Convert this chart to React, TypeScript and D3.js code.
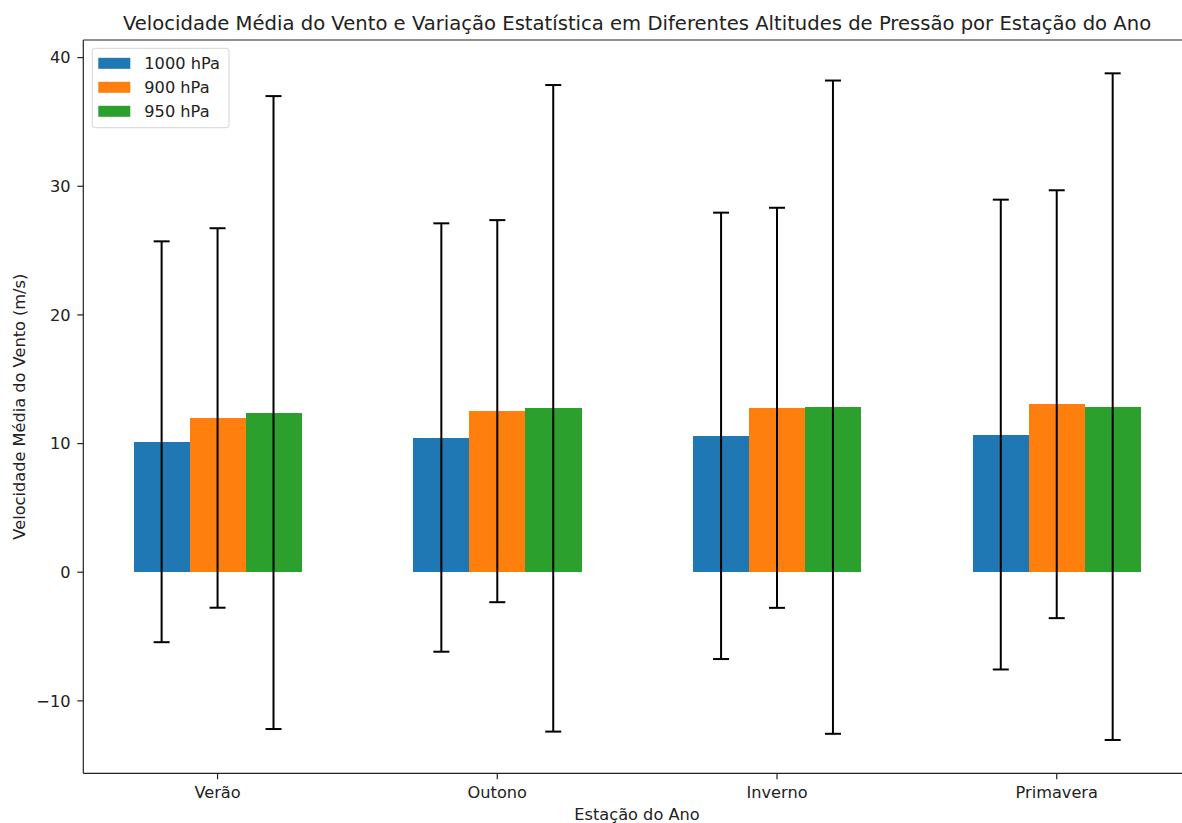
import * as d3 from 'd3'

// Estações e séries (médias e desvios)
const seasons = ['Verão', 'Outono', 'Inverno', 'Primavera']
const levels = ['1000 hPa', '900 hPa', '950 hPa']
const colors = ['#1f77b4', '#ff7f0e', '#2ca02c']

const mean1000 = [10.14, 10.47, 10.6, 10.7]
const mean900 = [11.99, 12.52, 12.78, 13.06]
const mean950 = [12.41, 12.74, 12.83, 12.87]
const std1000 = [15.58, 16.65, 17.35, 18.26]
const std900 = [14.75, 14.85, 15.55, 16.63]
const std950 = [24.6, 25.13, 25.39, 25.91]

const yTicks = [-10, 0, 10, 20, 30, 40]

const W = 1182
const H = 823
const FONT = 'DejaVu Sans, sans-serif'
const BAR_W = 0.2
const FS = 16.2

export default function App() {
  const means = [mean1000, mean900, mean950]
  const stds = [std1000, std900, std950]

  // limits like matplotlib's 5% auto margins
  const lo = d3.min(means.flatMap((m, s) => m.map((v, i) => v - stds[s][i])))!
  const hi = d3.max(means.flatMap((m, s) => m.map((v, i) => v + stds[s][i])))!
  const pad = (hi - lo) * 0.05
  const xMin = -BAR_W * 1.5, xMax = seasons.length - 1 + BAR_W * 1.5
  const xPad = (xMax - xMin) * 0.05

  const plot = { left: 83.3, top: 40, bottom: 773.3 }
  const x = d3.scaleLinear().domain([xMin - xPad, xMax + xPad]).range([plot.left, 1191])
  const y = d3.scaleLinear().domain([lo - pad, hi + pad]).range([plot.bottom, plot.top])

  const bw = x(BAR_W) - x(0)
  const cap = 8

  return (
    <div style={{ position: 'absolute', left: 0, top: 0 }}>
      <svg width={W} height={H} style={{ display: 'block', background: '#fff' }} fontFamily={FONT}>
        {/* Bars */}
        {levels.map((lev, s) => (
          <g key={lev} fill={colors[s]} shapeRendering="crispEdges">
            {seasons.map((season, i) => {
              const cx = x(i + (s - 1) * BAR_W)
              return (
                <rect key={season} x={cx - bw / 2} y={y(means[s][i])}
                  width={bw + 0.4} height={y(0) - y(means[s][i])} />
              )
            })}
          </g>
        ))}

        {/* Error bars */}
        {levels.map((lev, s) => (
          <g key={lev + '-err'} stroke="#000" strokeWidth={2}>
            {seasons.map((season, i) => {
              const cx = x(i + (s - 1) * BAR_W)
              const y1 = y(means[s][i] + stds[s][i])
              const y2 = y(means[s][i] - stds[s][i])
              return (
                <g key={season}>
                  <line x1={cx} x2={cx} y1={y1} y2={y2} />
                  <line x1={cx - cap} x2={cx + cap} y1={y1} y2={y1} />
                  <line x1={cx - cap} x2={cx + cap} y1={y2} y2={y2} />
                </g>
              )
            })}
          </g>
        ))}

        {/* Spines */}
        <g stroke="#222" strokeWidth={1.2} fill="none">
          <line x1={plot.left} x2={plot.left} y1={plot.top} y2={plot.bottom} />
          <line x1={plot.left} x2={W} y1={plot.top} y2={plot.top} />
          <line x1={plot.left} x2={W} y1={plot.bottom} y2={plot.bottom} />
        </g>

        {/* Y ticks */}
        {yTicks.map(t => (
          <g key={t} transform={`translate(0,${y(t)})`}>
            <line x1={plot.left - 6} x2={plot.left} stroke="#222" strokeWidth={1.2} />
            <text x={70.5} dy="0.35em" textAnchor="end" fontSize={FS} fill="#222">
              {t < 0 ? `\u2212${Math.abs(t)}` : t}
            </text>
          </g>
        ))}

        {/* X ticks */}
        {seasons.map((season, i) => (
          <g key={season} transform={`translate(${x(i)},${plot.bottom})`}>
            <line y1={0} y2={6} stroke="#222" strokeWidth={1.2} />
            <text y={25} textAnchor="middle" fontSize={FS} fill="#222">{season}</text>
          </g>
        ))}

        {/* Titles */}
        <text x={637} y={29.5} textAnchor="middle" fontSize={19.6} fill="#222">
          Velocidade Média do Vento e Variação Estatística em Diferentes Altitudes de Pressão por Estação do Ano
        </text>
        <text x={637} y={820} textAnchor="middle" fontSize={FS} fill="#222">Estação do Ano</text>
        <text transform={`translate(25,${(plot.top + plot.bottom) / 2}) rotate(-90)`}
          textAnchor="middle" fontSize={FS} fill="#222">Velocidade Média do Vento (m/s)</text>

        {/* Legend */}
        <g transform="translate(92.3,48.3)">
          <rect width={136.7} height={79.4} rx={3} fill="#fff" fillOpacity={0.8} stroke="#d6d6d6" />
          {levels.map((lev, s) => (
            <g key={lev} transform={`translate(6,${15 + s * 24})`}>
              <rect x={0} y={-5.5} width={32} height={11} fill={colors[s]} />
              <text x={46} dy="0.35em" fontSize={FS} fill="#222">{lev}</text>
            </g>
          ))}
        </g>
      </svg>
    </div>
  )
}
